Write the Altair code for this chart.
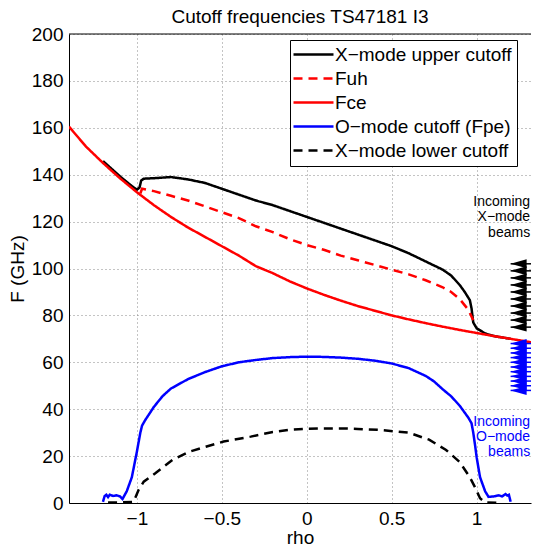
import altair as alt
import pandas as pd

TITLE = "Cutoff frequencies TS47181 I3"
SERIES = ["X−mode upper cutoff", "Fuh", "Fce", "O−mode cutoff (Fpe)", "X−mode lower cutoff"]
COLORS = ["black", "red", "red", "blue", "black"]
DASHES = [[1, 0], [9, 6], [1, 0], [1, 0], [9, 6]]
FONT = "Liberation Sans"

# X-mode upper cutoff
xu_rho = [-1.2, -1.1, -1.05, -1.02, -1.0, -0.985, -0.975, -0.96, -0.9, -0.8, -0.7, -0.6, -0.5, -0.4,
          -0.3, -0.2, -0.1, 0.0, 0.1, 0.2, 0.3, 0.4, 0.5, 0.6, 0.7, 0.8, 0.85, 0.9, 0.93, 0.96,
          0.97, 0.98, 1.0, 1.05, 1.1, 1.2]
xu_f = [145.8, 139.3, 136.3, 134.6, 133.6, 134.5, 137.5, 138.3, 138.5, 139.0, 138.0, 136.5, 134.0, 131.5,
        129.0, 127.0, 124.5, 122.0, 119.5, 117.0, 114.5, 112.0, 109.5, 106.5, 103.0, 99.5, 97.0, 93.0, 90.0, 86.5,
        83.0, 77.0, 74.5, 72.3, 71.2, 70.0]

# Upper hybrid frequency
fuh_rho = [-0.98, -0.97, -0.9, -0.8, -0.7, -0.6, -0.5, -0.4, -0.3, -0.2, -0.1, 0.0, 0.1, 0.2, 0.3,
           0.4, 0.5, 0.6, 0.7, 0.8, 0.85, 0.9, 0.95, 0.98]
fuh_f = [132.0, 134.0, 133.0, 131.0, 129.0, 126.5, 124.0, 121.5, 118.0, 115.5, 112.5, 110.0, 108.0, 105.5, 103.5,
         101.5, 99.5, 97.5, 95.0, 92.0, 90.0, 87.0, 82.5, 78.0]

# Electron cyclotron frequency
fce_rho = [-1.4, -1.3, -1.2, -1.1, -1.0, -0.9, -0.8, -0.7, -0.6, -0.5, -0.4, -0.3, -0.2, -0.1, 0.0,
           0.1, 0.2, 0.3, 0.4, 0.5, 0.6, 0.7, 0.8, 0.9, 1.0, 1.1, 1.2, 1.3, 1.375]
fce_f = [160.5, 152.0, 145.0, 138.5, 132.5, 127.0, 122.0, 117.5, 113.5, 109.5, 105.5, 101.0, 98.0, 94.5, 91.5,
         88.8, 86.3, 84.0, 82.0, 80.0, 78.3, 76.7, 75.2, 73.8, 72.5, 71.2, 70.0, 68.8, 67.9]

# O-mode cutoff (plasma frequency)
fpe_rho = [-1.2, -1.19, -1.18, -1.17, -1.16, -1.14, -1.12, -1.1, -1.085, -1.06, -1.03, -1.0, -0.98, -0.97,
           -0.95, -0.9, -0.85, -0.8, -0.7, -0.6, -0.5, -0.4, -0.3, -0.2, -0.1, 0.0, 0.1, 0.2, 0.3, 0.4,
           0.5, 0.6, 0.7, 0.75, 0.8, 0.85, 0.9, 0.95, 0.97, 0.98, 0.99, 1.0, 1.02, 1.05, 1.07, 1.1,
           1.13, 1.15, 1.17, 1.18, 1.19, 1.2]
fpe_f = [0.5, 3.0, 3.5, 2.5, 3.5, 3.0, 3.3, 2.8, 1.7, 5.0, 11.0, 22.0, 30.0, 33.0,
         35.5, 41.0, 45.5, 48.8, 52.8, 55.8, 58.3, 60.0, 61.0, 61.8, 62.2, 62.4, 62.3, 62.0, 61.5, 60.7,
         59.5, 57.5, 54.2, 51.8, 48.5, 45.5, 41.5, 36.5, 34.0, 30.0, 25.0, 19.5, 11.0, 5.0, 2.6, 2.8,
         3.3, 2.8, 3.8, 3.2, 3.5, 0.5]

# X-mode lower cutoff
xl_rho = [-1.17, -1.1, -1.02, -0.99, -0.96, -0.89, -0.79, -0.69, -0.59, -0.49, -0.33, -0.2, -0.1, 0.0,
          0.1, 0.2, 0.3, 0.42, 0.6, 0.72, 0.82, 0.9, 0.96, 0.99, 1.02, 1.05, 1.14]
xl_f = [0.2, 0.2, 0.5, 5.6, 9.1, 12.8, 18.4, 21.9, 24.1, 26.2, 28.3, 30.3, 31.2, 31.6,
        31.8, 31.8, 31.6, 31.2, 30.0, 27.0, 22.6, 17.5, 11.0, 6.8, 2.0, 0.3, 0.0]

# Incoming beams (frequencies, GHz)
x_beams = [75, 78, 81, 84, 87, 90, 93, 96, 99, 102]
o_beams = [48, 50, 52, 54, 56, 58, 60, 62, 64, 66, 68]
BEAM_TIP = 1.2
X_MAX = 1.32
X_MIN = -1.4

x_text = ["Incoming", "X−mode", "beams"]
x_text_f = [126.6, 120.1, 113.5]
o_text = ["Incoming", "O−mode", "beams"]
o_text_f = [32.9, 26.5, 20.1]
TEXT_RHO = 1.315

rows = []
for name, rr, ff in zip(SERIES, [xu_rho, fuh_rho, fce_rho, fpe_rho, xl_rho],
                        [xu_f, fuh_f, fce_f, fpe_f, xl_f]):
    for i, (r, f) in enumerate(zip(rr, ff)):
        rows.append({"series": name, "rho": r, "F": f, "idx": i})
df = pd.DataFrame(rows)

xscale = alt.Scale(domain=[X_MIN, X_MAX], nice=False, zero=False)
yscale = alt.Scale(domain=[0, 200], nice=False, zero=False)

leg = dict(title=None, orient="none", legendX=221, legendY=6, symbolType="M-4,0L4,0",
           symbolSize=100, symbolStrokeWidth=2.5, symbolOffset=9, labelOffset=12,
           labelFontSize=19, labelFont=FONT, labelLimit=400, strokeColor="black",
           fillColor="white", padding=5, rowPadding=4, cornerRadius=0, labelColor="black")

lines = alt.Chart(df).mark_line(strokeWidth=2.5, clip=True).encode(
    x=alt.X("rho:Q", scale=xscale,
            axis=alt.Axis(values=[-1, -0.5, 0, 0.5, 1], format="~g", title="rho",
                          labelPadding=6, titlePadding=0)),
    y=alt.Y("F:Q", scale=yscale,
            axis=alt.Axis(values=list(range(0, 201, 20)), title="F (GHz)", labelPadding=6, titlePadding=4)),
    color=alt.Color("series:N", scale=alt.Scale(domain=SERIES, range=COLORS), legend=alt.Legend(**leg)),
    strokeDash=alt.StrokeDash("series:N", scale=alt.Scale(domain=SERIES, range=DASHES),
                              legend=alt.Legend(**leg)),
    order=alt.Order("idx:Q"),
)

def beams(freqs, color):
    bdf = pd.DataFrame({"F": freqs, "tip": [BEAM_TIP] * len(freqs), "end": [X_MAX] * len(freqs)})
    shaft = alt.Chart(bdf).mark_rule(color=color, strokeWidth=1.5, clip=True).encode(
        x="tip:Q", x2="end:Q", y="F:Q")
    head = alt.Chart(bdf).mark_point(shape="M0,0L1,-0.28L1,0.28Z", size=1024, filled=True,
                                     color=color, opacity=1, strokeWidth=0).encode(
        x="tip:Q", y="F:Q")
    return shaft + head

def label(texts, fs, color):
    tdf = pd.DataFrame({"t": texts, "F": fs, "rho": [TEXT_RHO] * len(texts)})
    return alt.Chart(tdf).mark_text(align="right", baseline="alphabetic", font=FONT, fontSize=14,
                                    color=color, clip=True).encode(x="rho:Q", y="F:Q", text="t:N")

frame = alt.Chart(pd.DataFrame({"a": [0]})).mark_rule(color="black", strokeWidth=1).encode(
    x=alt.datum(X_MIN), x2=alt.datum(X_MAX), y=alt.datum(200))

chart = alt.layer(
    lines, beams(x_beams, "black"), beams(o_beams, "blue"),
    label(x_text, x_text_f, "black"), label(o_text, o_text_f, "blue"), frame
).properties(
    width=524, height=538,
    autosize=alt.AutoSizeParams(type="fit", contains="padding"),
    title=alt.TitleParams(TITLE, fontSize=19, fontWeight="normal", font=FONT, offset=-2,
                          anchor="middle", color="black"),
    padding={"left": 0, "top": 0, "right": 0, "bottom": -1},
).configure_view(stroke="transparent").configure_axis(
    grid=True, gridDash=[1, 3], gridColor="#888888", gridOpacity=1, domainColor="black",
    domainWidth=1, ticks=False, labelFont=FONT, labelFontSize=19, labelColor="black",
    titleFont=FONT, titleFontSize=19, titleFontWeight="normal", titleColor="black",
)

chart.save("out.html", embed_options={"renderer": "svg", "actions": False})
